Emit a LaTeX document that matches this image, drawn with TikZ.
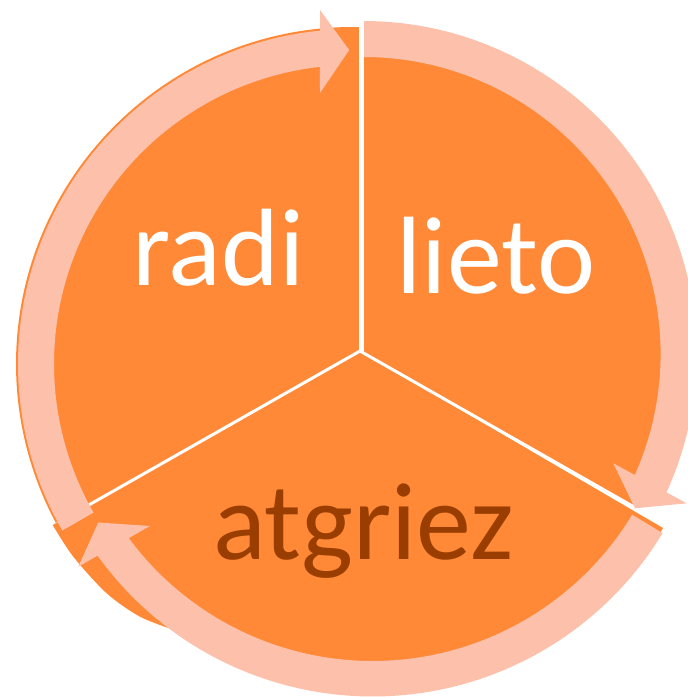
\documentclass[tikz,border=0pt]{standalone}
\usepackage{fontspec}
\setmainfont{Carlito}
\usetikzlibrary{calc}
\definecolor{pieorange}{RGB}{255,137,54}
\definecolor{arrowpink}{RGB}{253,193,171}
\definecolor{textbrown}{RGB}{153,61,0}
\begin{document}
\begin{tikzpicture}[x=1pt,y=-1pt,
  piesector/.style={fill=pieorange},
  gapline/.style={draw=white,line width=3pt},
  cyclearrow/.style={fill=arrowpink},
  wordlabel/.style={font=\fontsize{110}{120}\selectfont, anchor=base, inner sep=0pt}]
\useasboundingbox (0,0) rectangle (688,697);
\clip (0,0) rectangle (688,697);
\coordinate (apex) at (360,351);
\coordinate (cr) at (353,364);
\coordinate (cl) at (363.6,354);
\coordinate (ca) at (372.6,357.5);
% sectors
\fill[piesector] (apex) -- (361,27.1) arc[start angle=271.36, end angle=151.9, radius=337] -- cycle;
\fill[piesector] (apex) -- ($(cl)+(270:313)$) arc[start angle=270, end angle=389.5, radius=313] -- cycle;
\fill[piesector] (apex) -- (663,528) arc[start angle=30.4, end angle=125.9, radius=336.8]
   -- plot[smooth] coordinates {(175.1,630.3) (140,616.7) (106.7,593.3) (73.3,556.7) (52.7,525)} -- cycle;
% gaps
\draw[gapline, line width=5pt] (361.6,352) -- (361.6,0);
\draw[gapline] (apex) -- (80,510);
\draw[gapline] (apex) -- (635,507.5);
% arrows
\fill[cyclearrow] ($(cr)+(150.2:335)$) arc[start angle=150.2, end angle=264.35, radius=335]
   -- (320,10) -- (349.2,50) -- (320,93) -- ($(cr)+(263.66:299)$)
   arc[start angle=263.66, end angle=150.2, radius=299] -- cycle;
\fill[cyclearrow] ($(cl)+(270.1:333)$) arc[start angle=270.1, end angle=384.54, radius=333]
   -- (686.7,503.3) -- (635,508.3) -- (613.3,463.3) -- ($(cl)+(384.04:297)$)
   arc[start angle=384.04, end angle=270.1, radius=297] -- cycle;
\fill[cyclearrow] ($(ca)+(31.2:339)$) arc[start angle=31.2, end angle=144.22, radius=339]
   -- (78.3,566.7) -- (98.3,522.5) -- (150,526) -- ($(ca)+(143.48:303.5)$)
   arc[start angle=143.48, end angle=31.2, radius=303.5] -- cycle;
% labels
\node[wordlabel, text=white] (radi) at (218.5,285) {radi};
\node[wordlabel, text=white] (lieto) at (496,293) {lieto};
\node[wordlabel, text=textbrown] (atgriez) at (363.5,559) {atgriez};
\end{tikzpicture}
\end{document}
